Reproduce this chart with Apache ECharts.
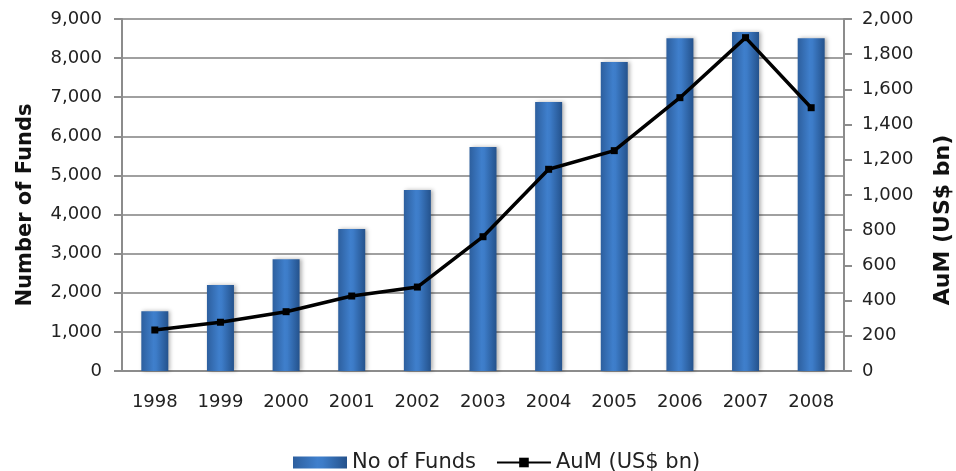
<!DOCTYPE html>
<html lang="en">
<head>
    <meta charset="UTF-8">
    <title>Funds and AuM</title>
    <style>
        body{ margin:0; background:#fff; overflow:hidden; }
        #main{ width:956px; height:471px; }
    </style>
</head>
<body>
<div id="main"></div>
<script src="https://cdn.jsdelivr.net/npm/echarts@6/dist/echarts.min.js"></script>
<script>
    // data
    var years = ['1998','1999','2000','2001','2002','2003','2004','2005','2006','2007','2008'];
    var noOfFunds = [1530, 2200, 2860, 3630, 4630, 5730, 6880, 7900, 8510, 8670, 8510];
    var aum = [233, 277, 337, 426, 477, 763, 1146, 1252, 1553, 1894, 1496];

    var labelFont = {fontFamily: 'DejaVu Sans', fontSize: 18, color: '#222'};

    var barColor = new echarts.graphic.LinearGradient(0, 0, 1, 0, [
        {offset: 0, color: '#2d5f9e'},
        {offset: 0.45, color: '#3f7fcc'},
        {offset: 0.55, color: '#3d7cc8'},
        {offset: 1, color: '#24528c'}
    ]);

    function fmt(v) { return v.toLocaleString('en-US'); }

    var mychart = echarts.init(document.getElementById('main'));
    var option = {
        animation: false,
        grid: {left: 122, right: 112, top: 19, bottom: 100, outerBoundsMode: 'none'},
        legend: {
            top: 447,
            left: 288,
            itemGap: 20,
            itemWidth: 54,
            itemHeight: 12,
            textStyle: {fontFamily: 'DejaVu Sans', fontSize: 21, color: '#222'},
            data: [
                {name: 'No of Funds', icon: 'rect'},
                {name: 'AuM (US$ bn)'}
            ]
        },
        xAxis: {
            type: 'category',
            data: years,
            axisLine: {lineStyle: {color: '#8c8c8c', width: 2}},
            axisTick: {length: 8, lineStyle: {color: '#8c8c8c', width: 2}},
            axisLabel: Object.assign({margin: 22}, labelFont)
        },
        yAxis: [
            {
                type: 'value',
                min: 0, max: 9000, interval: 1000,
                name: 'Number of Funds',
                nameLocation: 'middle',
                nameRotate: 90,
                nameGap: 86,
                nameTextStyle: {fontFamily: 'DejaVu Sans', fontSize: 21, fontWeight: 'bold', color: '#111', padding: [0, 20, 0, 0]},
                axisLine: {show: true, lineStyle: {color: '#8c8c8c', width: 2}},
                axisTick: {show: true, length: 8, lineStyle: {color: '#8c8c8c', width: 2}},
                splitLine: {lineStyle: {color: '#a0a0a0', width: 2}},
                axisLabel: Object.assign({margin: 20, formatter: fmt}, labelFont)
            },
            {
                type: 'value',
                min: 0, max: 2000, interval: 200,
                name: 'AuM (US$ bn)',
                nameLocation: 'middle',
                nameRotate: 90,
                nameGap: 88,
                nameTextStyle: {fontFamily: 'DejaVu Sans', fontSize: 22, fontWeight: 'bold', color: '#111', padding: [0, 50, 0, 0]},
                axisLine: {show: true, lineStyle: {color: '#8c8c8c', width: 2}},
                axisTick: {show: true, length: 8, lineStyle: {color: '#8c8c8c', width: 2}},
                splitLine: {show: false},
                axisLabel: Object.assign({margin: 18, formatter: fmt}, labelFont)
            }
        ],
        series: [
            {
                name: 'No of Funds',
                type: 'bar',
                yAxisIndex: 0,
                barWidth: 27,
                itemStyle: {
                    color: barColor,
                    shadowColor: 'rgba(0,0,0,0.3)',
                    shadowBlur: 4,
                    shadowOffsetX: 2
                },
                data: noOfFunds
            },
            {
                name: 'AuM (US$ bn)',
                type: 'line',
                yAxisIndex: 1,
                symbol: 'rect',
                symbolSize: 7,
                lineStyle: {color: '#000', width: 3.5},
                itemStyle: {color: '#000'},
                data: aum
            }
        ]
    };
    mychart.setOption(option);
</script>
</body>
</html>
